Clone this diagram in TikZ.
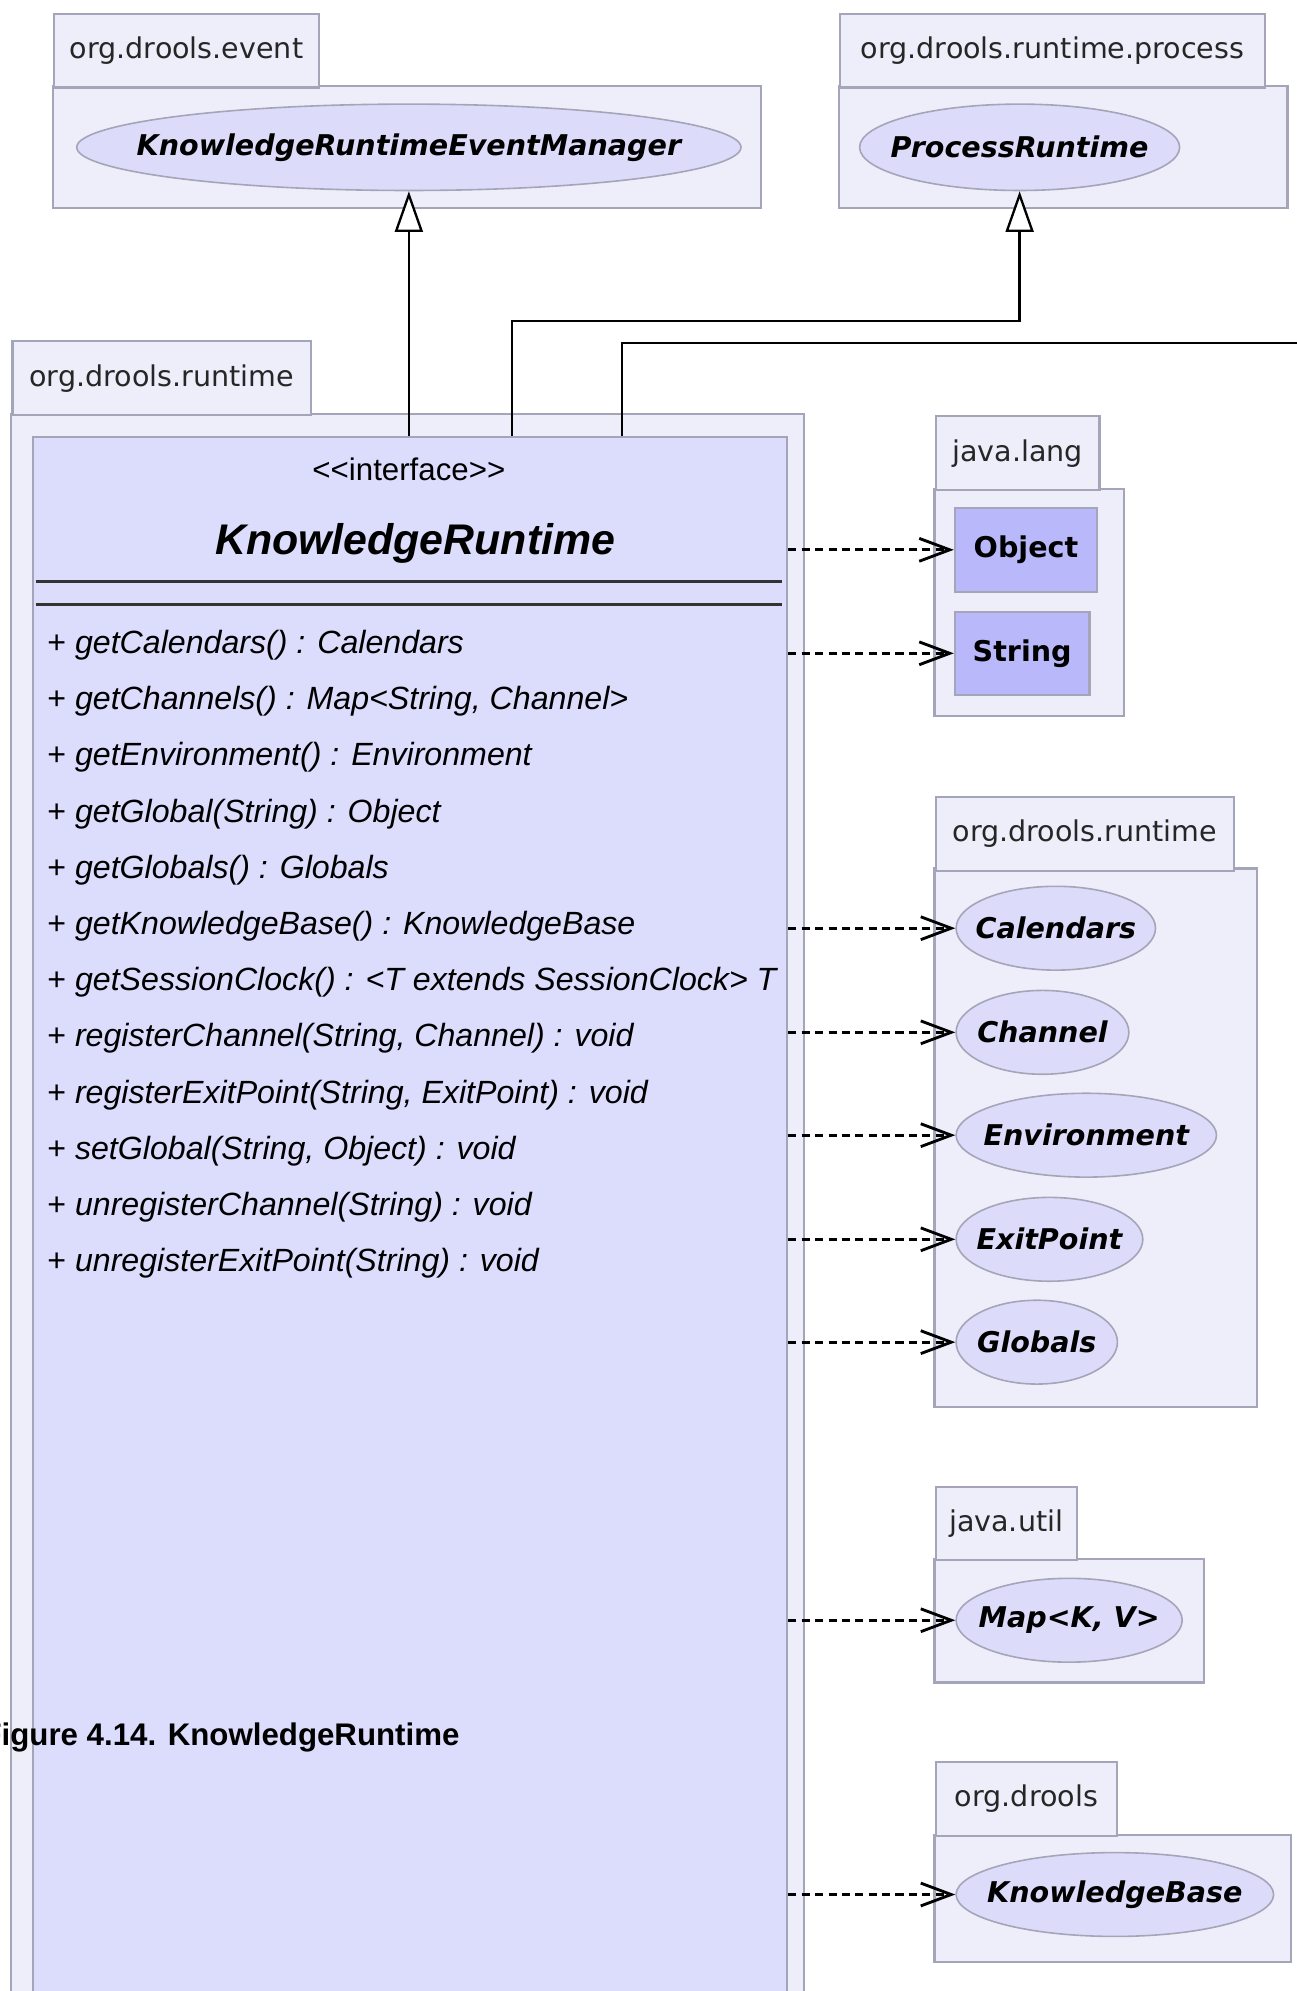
\documentclass[tikz,border=0pt]{standalone}
\usepackage{fontspec}
\setmainfont{Liberation Sans}
\newfontfamily\dvsans{DejaVu Sans}
\usepackage{tikz}
\usetikzlibrary{arrows.meta,shapes.geometric}

\definecolor{pkgfill}{RGB}{238,238,251}
\definecolor{clsfill}{RGB}{220,220,252}
\definecolor{ovalfill}{RGB}{220,220,250}
\definecolor{boxfill}{RGB}{184,184,250}
\definecolor{pkgline}{RGB}{165,165,185}

\newcommand{\ovaltext}[1]{\makebox[0pt]{#1}}

\tikzset{
  pkg/.style={draw=pkgline, fill=pkgfill, line width=1.2pt},
  pkgtab/.style={pkg, anchor=north west, inner sep=0pt, minimum height=1.45cm,
    text=black!85, font=\dvsans\fontsize{16}{18}\selectfont},
  clsbox/.style={draw=pkgline, fill=clsfill, line width=1.2pt, anchor=north west, inner sep=0pt},
  oval/.style={ellipse, draw=pkgline, fill=ovalfill, line width=0.9pt, inner sep=0pt,
    minimum height=1.65cm, font=\dvsans\bfseries\itshape\fontsize{16}{18}\selectfont},
  jbox/.style={draw=pkgline, fill=boxfill, line width=1.2pt, inner sep=0pt,
    font=\dvsans\bfseries\fontsize{16}{18}\selectfont},
  meth/.style={anchor=west, inner sep=0pt, font=\fontsize{18}{20}\selectfont},
  sep/.style={line width=2pt, black!80},
  inherit/.style={line width=1.3pt, -{Triangle[fill=white, length=0.8cm, width=0.55cm]}},
  link/.style={line width=1.3pt},
  dep/.style={line width=1.6pt, dash pattern=on 4.5pt off 3pt, -{Straight Barb[length=0.6cm, width=0.45cm]}}
}

\begin{document}
\begin{tikzpicture}[x=0.025cm, y=-0.025cm]
  \useasboundingbox (0,0) rectangle (1021,1568);

  % packages
  \draw[pkg] (42,68) rectangle (599,164);
  \node[pkgtab, minimum width=5.2cm] (evtab) at (42,10) {org.drools.event};
  \draw[pkg] (661,68) rectangle (1014,164);
  \node[pkgtab, minimum width=8.35cm] (prtab) at (661,10) {org.drools.runtime.process};
  \draw[pkg] (9,326) rectangle (633,1590);
  \node[pkgtab, minimum width=5.875cm] (rttab) at (9,268) {org.drools.runtime};
  \draw[pkg] (736,385) rectangle (885,564);
  \node[pkgtab, minimum width=3.225cm] (langtab) at (736,327) {java.lang};
  \draw[pkg] (736,684) rectangle (990,1108);
  \node[pkgtab, minimum width=5.875cm] (rt2tab) at (736,627) {org.drools.runtime};
  \draw[pkg] (736,1228) rectangle (948,1325);
  \node[pkgtab, minimum width=2.775cm] (utiltab) at (736,1170) {java.util};
  \draw[pkg] (736,1445) rectangle (1017,1545);
  \node[pkgtab, minimum width=3.575cm] (drtab) at (736,1387) {org.drools};

  % the interface
  \node[clsbox, minimum width=14.85cm, minimum height=31.2cm] (kr) at (25,343) {};
  \node[font=\fontsize{17.5}{19}\selectfont] (stereo) at (322,370) {<{}<interface>{}>};
  \node[font=\bfseries\itshape\fontsize{24}{26}\selectfont] (title) at (327,428) {KnowledgeRuntime};
  \draw[sep] (28,458) -- (616,458);
  \draw[sep] (28,476) -- (616,476);
  \foreach \m [count=\i from 0] in {
      {getCalendars() : Calendars},
      {getChannels() : Map<String, Channel>},
      {getEnvironment() : Environment},
      {getGlobal(String) : Object},
      {getGlobals() : Globals},
      {getKnowledgeBase() : KnowledgeBase},
      {getSessionClock() : <T extends SessionClock> T},
      {registerChannel(String, Channel) : void},
      {registerExitPoint(String, ExitPoint) : void},
      {setGlobal(String, Object) : void},
      {unregisterChannel(String) : void},
      {unregisterExitPoint(String) : void}}
    \node[meth] (m\i) at (37,{508+44.27*\i}) {+ \textit{\m}};

  % supertypes
  \node[oval, minimum width=13.075cm, minimum height=1.7cm] (kem) at (322,116) {\ovaltext{KnowledgeRuntimeEventManager}};
  \node[oval, minimum width=6.3cm, minimum height=1.7cm] (pr) at (803,116) {\ovaltext{ProcessRuntime}};

  % used types
  \node[jbox, minimum width=2.8cm, minimum height=1.65cm] (obj) at (808,433) {Object};
  \node[jbox, minimum width=2.65cm, minimum height=1.625cm] (str) at (805,514.5) {String};
  \node[oval, minimum width=3.925cm] (cal) at (831.5,731) {\ovaltext{Calendars}};
  \node[oval, minimum width=3.4cm] (chan) at (821,813) {\ovaltext{Channel}};
  \node[oval, minimum width=5.125cm] (env) at (855.5,894) {\ovaltext{Environment}};
  \node[oval, minimum width=3.675cm] (exit) at (826.5,976) {\ovaltext{ExitPoint}};
  \node[oval, minimum width=3.175cm] (glob) at (816.5,1057) {\ovaltext{Globals}};
  \node[oval, minimum width=4.45cm] (map) at (842,1276) {\ovaltext{Map<K, V>}};
  \node[oval, minimum width=6.25cm] (kb) at (878,1492) {\ovaltext{KnowledgeBase}};

  % connectors
  \draw[inherit] (kr.north -| kem.south) -- (kem.south);
  \coordinate (bend2) at (403,253);
  \draw[inherit] (kr.north -| bend2) -- (bend2) -| (pr.south);
  \coordinate (bend3) at (490,270);
  \coordinate (offR) at (1030,270);
  \draw[link] (kr.north -| bend3) -- (bend3) -- (offR);
  \foreach \t in {obj,str,cal,chan,env,exit,glob,map,kb}
    \draw[dep] (kr.east |- \t.west) -- (\t.west);

  \node[anchor=west, inner sep=0pt, font=\bfseries\fontsize{17.5}{19}\selectfont] (cap) at (-14,1368) {Figure 4.14. KnowledgeRuntime};
\end{tikzpicture}
\end{document}
